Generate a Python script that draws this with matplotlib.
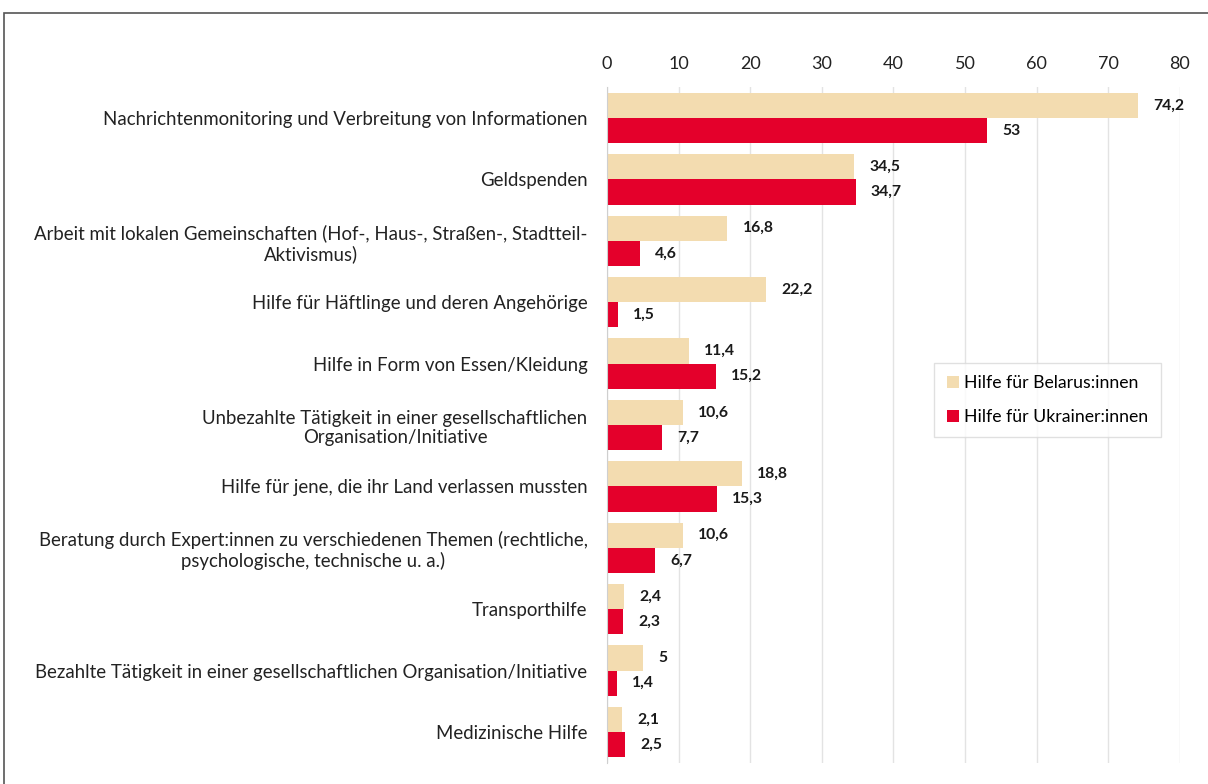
import numpy as np
import matplotlib
matplotlib.use("Agg")
from matplotlib import pyplot as plt
from matplotlib.patches import Rectangle

categories = [
    "Nachrichtenmonitoring und Verbreitung von Informationen",
    "Geldspenden",
    "Arbeit mit lokalen Gemeinschaften (Hof-, Haus-, Straßen-, Stadtteil-\nAktivismus)",
    "Hilfe für Häftlinge und deren Angehörige",
    "Hilfe in Form von Essen/Kleidung",
    "Unbezahlte Tätigkeit in einer gesellschaftlichen\nOrganisation/Initiative",
    "Hilfe für jene, die ihr Land verlassen mussten",
    "Beratung durch Expert:innen zu verschiedenen Themen (rechtliche,\npsychologische, technische u. a.)",
    "Transporthilfe",
    "Bezahlte Tätigkeit in einer gesellschaftlichen Organisation/Initiative",
    "Medizinische Hilfe",
]
belarus = [74.2, 34.5, 16.8, 22.2, 11.4, 10.6, 18.8, 10.6, 2.4, 5, 2.1]
ukraine = [53, 34.7, 4.6, 1.5, 15.2, 7.7, 15.3, 6.7, 2.3, 1.4, 2.5]
series_names = ["Hilfe für Belarus:innen", "Hilfe für Ukrainer:innen"]
xticks = [0, 10, 20, 30, 40, 50, 60, 70, 80]

BEIGE = "#F3DCB0"
RED = "#E4002B"

plt.rcParams["font.family"] = ["Lato", "DejaVu Sans"]


def fmt(v):
    if float(v).is_integer():
        return str(int(v))
    return f"{v:.1f}".replace(".", ",")


fig = plt.figure(figsize=(12.08, 7.84), dpi=100)
ax = fig.add_axes([0.5025, 0.0272, 0.4743, 0.8614])

y = np.arange(len(categories))
h = 0.41
bars_b = ax.barh(y - h / 2, belarus, height=h, color=BEIGE, label=series_names[0], zorder=3)
bars_u = ax.barh(y + h / 2, ukraine, height=h, color=RED, label=series_names[1], zorder=3)

for bars, vals in ((bars_b, belarus), (bars_u, ukraine)):
    for b, v in zip(bars, vals):
        ax.annotate(fmt(v), (b.get_width(), b.get_y() + b.get_height() / 2),
                    xytext=(11, 0), textcoords="offset points",
                    ha="left", va="center", fontsize=11.3, fontweight="bold",
                    color="#1a1a1a")

ax.set_ylim(len(categories) - 0.5, -0.5)
ax.set_xlim(0, 80)
ax.set_xticks(xticks)
ax.xaxis.tick_top()
ax.tick_params(axis="x", length=0, labelsize=13, pad=11, colors="#222222")
ax.set_yticks(y)
ax.set_yticklabels(categories, fontsize=13.4, color="#222222")
ax.tick_params(axis="y", length=0, pad=14)
for lbl in ax.get_yticklabels():
    lbl.set_multialignment("center")

ax.grid(axis="x", color="#e3e3e3", linewidth=1, zorder=0)
for s in ("top", "right", "bottom"):
    ax.spines[s].set_visible(False)
ax.spines["left"].set_color("#cfcfcf")
ax.spines["left"].set_zorder(4)

leg = ax.legend(loc="upper left", bbox_to_anchor=(0.556, 0.605), fontsize=12.7,
                frameon=True, fancybox=False, edgecolor="#d9d9d9",
                handlelength=0.7, handleheight=0.7, handletextpad=0.3,
                labelspacing=1.0, borderpad=0.7)
leg.get_frame().set_linewidth(1)

# outer chart frame (partly cut off)
fig.patches.append(Rectangle((4 / 1208, -0.1), 1.2, 1 - 13 / 784 + 0.1,
                             transform=fig.transFigure, fill=False,
                             edgecolor="#555555", linewidth=1.2))

fig.savefig("out.png", dpi=100)
